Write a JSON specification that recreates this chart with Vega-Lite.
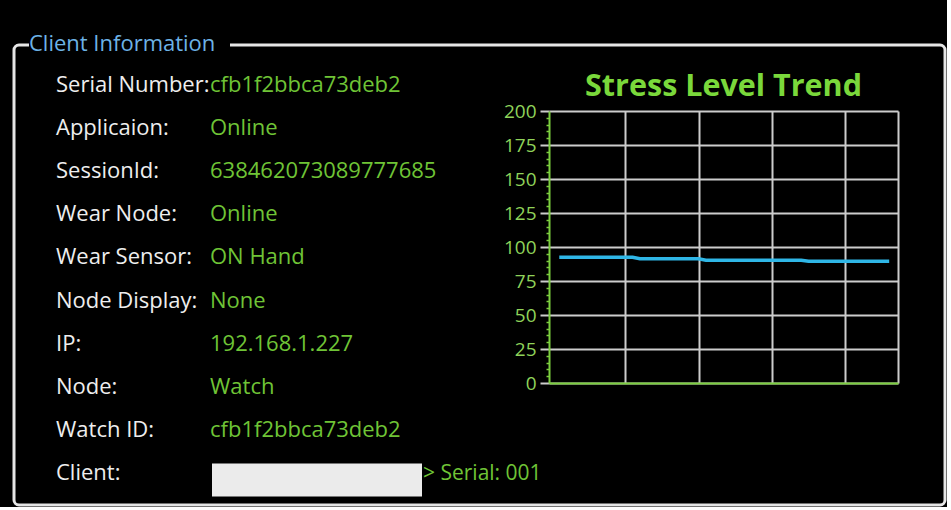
{
  "$schema": "https://vega.github.io/schema/vega-lite/v6.json",
  "background": "#000000",
  "autosize": {"type": "none"},
  "padding": {"left": 14, "top": 45, "right": 2, "bottom": 2},
  "config": {"view": {"stroke": null}, "font": "Open Sans"},
  "datasets": {
    "info": [
      {"label": "Serial Number:", "value": "cfb1f2bbca73deb2"},
      {"label": "Applicaion:", "value": "Online"},
      {"label": "SessionId:", "value": "638462073089777685"},
      {"label": "Wear Node:", "value": "Online"},
      {"label": "Wear Sensor:", "value": "ON Hand"},
      {"label": "Node Display:", "value": "None"},
      {"label": "IP:", "value": "192.168.1.227"},
      {"label": "Node:", "value": "Watch"},
      {"label": "Watch ID:", "value": "cfb1f2bbca73deb2"},
      {"label": "Client:", "value": "> Serial: 001"}
    ],
    "stress": [
      {"t": 31, "stress": 92.5},
      {"t": 41, "stress": 92.5},
      {"t": 42, "stress": 91.3},
      {"t": 50, "stress": 91.3},
      {"t": 51, "stress": 90.3},
      {"t": 64, "stress": 90.3},
      {"t": 65, "stress": 89.6},
      {"t": 76, "stress": 89.6}
    ]
  },
  "width": 931,
  "height": 460,
  "title": {"text": "Client Information", "anchor": "start", "frame": "group", "color": "#6db3e6", "fontSize": 22, "fontWeight": "normal", "font": "Open Sans", "dx": 15, "baseline": "alphabetic", "offset": -28},
  "view": {"stroke": "#e6e6e6", "strokeWidth": 3, "cornerRadius": 5, "strokeDash": [10, 201, 5000]},
  "layer": [
    {
      "data": {"name": "info"},
      "layer": [
        {
          "mark": {"type": "text", "align": "left", "baseline": "alphabetic", "fontSize": 22, "color": "#eeeeee", "font": "Open Sans"},
          "encoding": {
            "x": {"datum": "label", "type": "nominal", "scale": {"type": "point", "domain": ["label", "value"], "range": [42, 196], "padding": 0}, "axis": null},
            "y": {"field": "label", "type": "nominal", "sort": null, "scale": {"type": "point", "range": [47, 435], "padding": 0}, "axis": null},
            "text": {"field": "label"}
          }
        },
        {
          "transform": [{"filter": "datum.label !== 'Client:'"}],
          "mark": {"type": "text", "align": "left", "baseline": "alphabetic", "fontSize": 22, "color": "#6fc436", "font": "Open Sans"},
          "encoding": {
            "x": {"datum": "value", "type": "nominal", "scale": {"type": "point", "domain": ["label", "value"], "range": [42, 196], "padding": 0}, "axis": null},
            "y": {"field": "label", "type": "nominal", "sort": null, "scale": {"type": "point", "range": [47, 435], "padding": 0}, "axis": null},
            "text": {"field": "value"}
          }
        },
        {
          "transform": [{"filter": "datum.label === 'Client:'"}],
          "mark": {"type": "rect", "width": 210, "height": 33, "xOffset": 107, "color": "#ebebeb"},
          "encoding": {
            "x": {"datum": "value", "type": "nominal", "scale": {"type": "point", "domain": ["label", "value"], "range": [42, 196], "padding": 0}, "axis": null},
            "y": {"field": "label", "type": "nominal", "sort": null, "scale": {"type": "point", "range": [47, 435], "padding": 0}, "axis": null}
          }
        },
        {
          "transform": [{"filter": "datum.label === 'Client:'"}],
          "mark": {"type": "text", "align": "left", "baseline": "alphabetic", "fontSize": 21, "color": "#6fc436", "font": "Open Sans", "dx": 213},
          "encoding": {
            "x": {"datum": "value", "type": "nominal", "scale": {"type": "point", "domain": ["label", "value"], "range": [42, 196], "padding": 0}, "axis": null},
            "y": {"field": "label", "type": "nominal", "sort": null, "scale": {"type": "point", "range": [47, 435], "padding": 0}, "axis": null},
            "text": {"field": "value"}
          }
        }
      ]
    },
    {
      "data": {"name": "stress"},
      "layer": [
        {
          "mark": {"type": "line", "color": "#2fb6e6", "strokeWidth": 3.5},
          "encoding": {
            "x": {"field": "t", "type": "quantitative", "scale": {"domain": [29.6, 77.2], "range": [535, 884], "nice": false, "zero": false},
              "axis": {"orient": "top", "offset": -338, "values": [40, 50, 60, 70, 77.2], "title": null, "grid": true, "gridColor": "#cccccc", "gridWidth": 2, "labels": false, "ticks": false, "domainColor": "#7ccf3e", "domainWidth": 2}},
            "y": {"field": "stress", "type": "quantitative", "scale": {"domain": [0, 200], "range": [338, 66], "nice": false, "zero": false},
              "axis": {"orient": "left", "offset": -535, "values": [0, 25, 50, 75, 100, 125, 150, 175, 200], "title": null, "grid": true, "gridColor": "#cccccc", "gridWidth": 2, "domainColor": "#7ccf3e", "domainWidth": 2, "tickColor": "#cccccc", "tickWidth": 2, "tickSize": 9, "labelColor": "#8fd35a", "labelFontSize": 19, "labelFont": "Open Sans", "labelPadding": 4}}
          }
        },
        {
          "mark": {"type": "line", "opacity": 0},
          "encoding": {
            "x": {"field": "t", "type": "quantitative"},
            "y": {"field": "stress", "type": "quantitative",
              "axis": {"orient": "left", "offset": -535, "values": [5, 10, 15, 20, 30, 35, 40, 45, 55, 60, 65, 70, 80, 85, 90, 95, 105, 110, 115, 120, 130, 135, 140, 145, 155, 160, 165, 170, 180, 185, 190, 195], "title": null, "grid": false, "labels": false, "domain": false, "tickColor": "#7ccf3e", "tickWidth": 1.5, "tickSize": 3}}
          }
        },
        {
          "data": {"values": [{}]},
          "mark": {"type": "text", "text": "Stress Level Trend", "align": "center", "baseline": "alphabetic", "fontSize": 30.5, "fontWeight": "bold", "color": "#7ad83b", "font": "Open Sans"},
          "encoding": {
            "x": {"datum": 53.4, "type": "quantitative"},
            "y": {"datum": 211, "type": "quantitative", "axis": null}
          }
        }
      ],
      "resolve": {"axis": {"y": "independent"}}
    }
  ],
  "resolve": {"scale": {"x": "independent", "y": "independent"}, "axis": {"x": "independent", "y": "independent"}}
}
